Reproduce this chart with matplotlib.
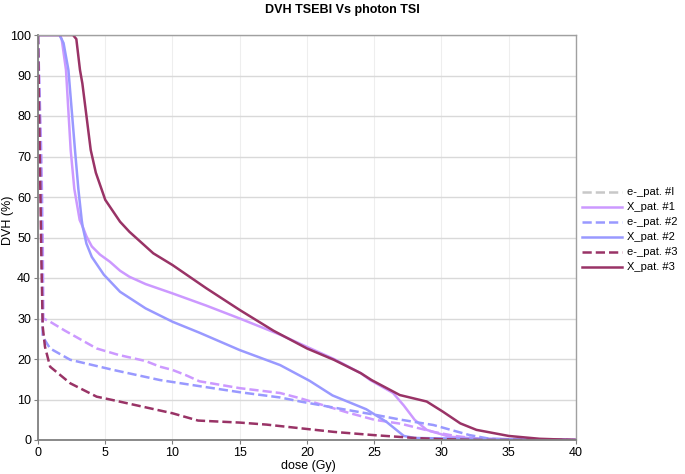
import matplotlib
matplotlib.use('Agg')
import matplotlib.pyplot as plt
from matplotlib.lines import Line2D

plt.rcParams['font.family'] = ['Liberation Sans', 'DejaVu Sans']

# ==================== Data ====================
e1_dose = [0, 0.25, 0.35, 0.4, 0.9, 2, 4.36, 6, 8, 9.07, 10, 11, 12, 15, 18, 19.5, 21, 23, 25, 27, 29.4, 31, 33, 40]
e1_dvh = [100, 70, 50, 30, 29.2, 27, 22.6, 21, 19.5, 18.1, 17.3, 16, 14.5, 12.8, 11.6, 10.3, 8.8, 6.8, 5, 4, 2, 1, 0.2, 0]

x1_dose = [0, 1.6, 1.76, 2.08, 2.43, 2.7, 3.1, 3.32, 3.6, 4, 4.6, 5.35, 6.1, 6.8, 8, 10, 12.5, 15, 18, 20, 22, 24, 24.7,
           26.4, 27.2, 28, 28.9, 30.6, 33, 40]
x1_dvh = [100, 100, 99, 91.4, 71.6, 62, 54.3, 52.7, 50.3, 47.8, 45.8, 44.0, 41.8, 40.3, 38.5, 36.2, 33.2, 30, 26, 23, 20,
          16.5, 14.8, 11.6, 8.5, 5, 2.5, 0.8, 0.3, 0]

e2_dose = [0, 0.25, 0.35, 0.9, 2.4, 5.6, 9.07, 12, 15, 18, 19.5, 22, 25.1, 27, 29.4, 32.1, 33.6, 36, 40]
e2_dvh = [100, 60, 25.5, 22.6, 19.8, 17.3, 14.8, 13.3, 11.8, 10.5, 9.5, 8, 6.2, 5, 3.7, 1.2, 0.3, 0.05, 0]

x2_dose = [0, 1.6, 1.9, 2.26, 2.75, 3.0, 3.25, 3.32, 3.6, 4.0, 4.9, 6.1, 8, 10, 12, 15, 18, 20.2, 21.9, 24.4, 25.9,
           27.2, 28, 32, 40]
x2_dvh = [100, 100, 98, 91.4, 71.6, 62, 54.3, 52.7, 48.5, 45.2, 40.8, 36.6, 32.5, 29.2, 26.5, 22.2, 18.5, 14.6, 11, 7.6,
          4.5, 1, 0.5, 0.3, 0]

e3_dose = [0, 0.25, 0.35, 0.52, 0.9, 2.4, 4.36, 5.5, 7, 10, 11.9, 15, 17, 19.5, 22, 25, 28, 30, 33, 40]
e3_dvh = [100, 45, 28, 23, 18.1, 14, 10.7, 9.9, 8.8, 6.6, 4.8, 4.3, 3.8, 2.9, 2, 1.2, 0.5, 0.2, 0, 0]

x3_dose = [0, 2.6, 2.85, 3.12, 3.3, 3.92, 4.3, 5, 6.1, 6.8, 8.57, 10, 12.5, 15, 17.5, 20, 22, 24, 24.8, 26.9,
           28.9, 30.1, 31.4, 32.6, 35, 37.3, 40]
x3_dvh = [100, 100, 99, 91.4, 88, 71.6, 66, 59.3, 53.9, 51.4, 46.1, 43.2, 37.5, 32.1, 27, 22.6, 19.8, 16.5, 14.8, 11.1,
          9.5, 7, 4.1, 2.5, 1, 0.3, 0]

labels = ['e-_pat. #I', 'X_pat. #1', 'e-_pat. #2', 'X_pat. #2', 'e-_pat. #3', 'X_pat. #3']

# ==================== Figure config ====================
violet = '#cc99ff'
blue = '#9999ff'
plum = '#993366'
lw = 1.8

fig = plt.figure(figsize=(6.85, 4.74), dpi=100)
ax = fig.add_axes([38 / 685, 1 - 440 / 474, (576 - 38) / 685, (440 - 35) / 474])

ax.plot(e1_dose, e1_dvh, '--', color=violet, lw=lw)
ax.plot(x1_dose, x1_dvh, '-', color=violet, lw=lw)
ax.plot(e2_dose, e2_dvh, '--', color=blue, lw=lw)
ax.plot(x2_dose, x2_dvh, '-', color=blue, lw=lw)
ax.plot(e3_dose, e3_dvh, '--', color=plum, lw=lw)
ax.plot(x3_dose, x3_dvh, '-', color=plum, lw=lw)

ax.set_xlim(0, 40)
ax.set_ylim(0, 100)
ax.set_xticks(range(0, 41, 5))
ax.set_yticks(range(0, 101, 10))
ax.tick_params(labelsize=9, length=3, width=0.8, color='#808080', pad=2)
ax.grid(True, axis='y', color='#d9d9d9', lw=1)
ax.grid(True, axis='x', color='#eeeeee', lw=0.8)
ax.set_axisbelow(True)
for side in ['left', 'bottom']:
    ax.spines[side].set_color('#808080')
    ax.spines[side].set_linewidth(1.3)
for side in ['right', 'top']:
    ax.spines[side].set_color('#a0a0a0')
    ax.spines[side].set_linewidth(1.0)

fig.text(0.5, 1 - 10 / 474, 'DVH TSEBI Vs photon TSI', ha='center', va='center', fontsize=9, fontweight='bold')
fig.text(8 / 685, 1 - 220 / 474, 'DVH (%)', rotation=90, ha='center', va='center', fontsize=9)
fig.text(308 / 685, 1 - 466 / 474, 'dose (Gy)', ha='center', va='center', fontsize=9)

# ==================== Legend ====================
handles = [
    Line2D([], [], ls='--', color='#c8c8c8', lw=lw),
    Line2D([], [], ls='-', color=violet, lw=lw),
    Line2D([], [], ls='--', color=blue, lw=lw),
    Line2D([], [], ls='-', color=blue, lw=lw),
    Line2D([], [], ls='--', color=plum, lw=lw),
    Line2D([], [], ls='-', color=plum, lw=lw),
]
fig.legend(handles, labels, loc='upper left', bbox_to_anchor=(578 / 685, 1 - 183 / 474), frameon=False,
           fontsize=8, handlelength=3.6, handletextpad=0.45, labelspacing=0.45, borderaxespad=0)

fig.savefig('out.png', dpi=100)
